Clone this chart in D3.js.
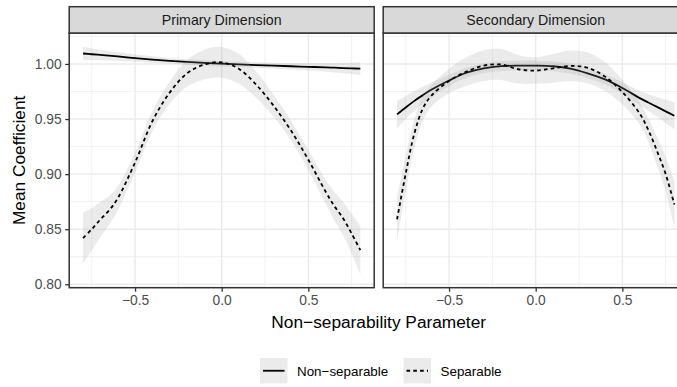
<!DOCTYPE html>
<html>
<head>
<meta charset="utf-8">
<script src="https://cdn.jsdelivr.net/npm/d3@7/dist/d3.min.js"></script>
<style>
  html, body { margin: 0; padding: 0; background: #fff; }
  svg { display: block; font-family: "Liberation Sans", Arial, Helvetica, sans-serif; }
</style>
</head>
<body>
<svg id="chart" width="677" height="387"></svg>
<script>
// Smoothed mean coefficient vs. non-separability parameter, with ±SE bands
const panels = ["Primary Dimension", "Secondary Dimension"];
const seriesNames = ["Non−separable", "Separable"];

const xs = [-0.8, -0.75, -0.7, -0.65, -0.6, -0.5, -0.4, -0.3, -0.2, -0.1, 0.0,
            0.1, 0.2, 0.3, 0.4, 0.5, 0.6, 0.65, 0.7, 0.75, 0.8];

// Primary Dimension
const primaryNonSep   = [1.0095, 1.0088, 1.0082, 1.0075, 1.0068, 1.0053, 1.0040, 1.0028, 1.0018, 1.0010, 1.0003,
                         0.9996, 0.9990, 0.9984, 0.9979, 0.9974, 0.9969, 0.9966, 0.9963, 0.9960, 0.9957];
const primaryNonSepSE = [0.0058, 0.0052, 0.0047, 0.0043, 0.0040, 0.0034, 0.0030, 0.0027, 0.0025, 0.0024, 0.0024,
                         0.0024, 0.0025, 0.0027, 0.0030, 0.0034, 0.0040, 0.0043, 0.0047, 0.0052, 0.0058];
const primarySep      = [0.842, 0.850, 0.8588, 0.867, 0.878, 0.9105, 0.948, 0.974, 0.9915, 0.9995, 1.0015,
                         0.9955, 0.981, 0.962, 0.9395, 0.913, 0.884, 0.871, 0.860, 0.846, 0.831];
const primarySepSE    = [0.023, 0.019, 0.016, 0.013, 0.011, 0.009, 0.009, 0.010, 0.012, 0.0135, 0.014,
                         0.0135, 0.012, 0.010, 0.009, 0.009, 0.011, 0.013, 0.015, 0.018, 0.022];

// Secondary Dimension
const secondaryNonSep   = [0.9542, 0.9605, 0.9665, 0.9718, 0.9768, 0.9850, 0.9920, 0.9960, 0.9980, 0.9985, 0.9985,
                           0.9979, 0.9958, 0.9915, 0.9860, 0.9782, 0.9690, 0.9650, 0.9610, 0.9570, 0.9530];
const secondaryNonSepSE = [0.0125, 0.0105, 0.0090, 0.0075, 0.0065, 0.0052, 0.0046, 0.0045, 0.0045, 0.0045, 0.0045,
                           0.0045, 0.0045, 0.0045, 0.0046, 0.0052, 0.0065, 0.0075, 0.0090, 0.0105, 0.0125];
const secondarySep      = [0.859, 0.9006, 0.937, 0.960, 0.9715, 0.9845, 0.9930, 0.9985, 0.9995, 0.9952, 0.9940,
                           0.9960, 0.9982, 0.9965, 0.9885, 0.9745, 0.955, 0.940, 0.921, 0.900, 0.8725];
const secondarySepSE    = [0.020, 0.016, 0.013, 0.011, 0.010, 0.011, 0.013, 0.014, 0.014, 0.013, 0.012,
                           0.013, 0.014, 0.014, 0.013, 0.011, 0.010, 0.011, 0.013, 0.016, 0.021];

const xTicks = [-0.5, 0.0, 0.5];
const xMinor = [-0.75, -0.25, 0.25, 0.75];
const yTicks = [0.80, 0.85, 0.90, 0.95, 1.00];
const yMinor = [0.825, 0.875, 0.925, 0.975, 1.025];

const panelData = [
  { title: panels[0], series: [
      { name: seriesNames[0], y: primaryNonSep, se: primaryNonSepSE, dash: null },
      { name: seriesNames[1], y: primarySep, se: primarySepSE, dash: "3.6,3.2" } ] },
  { title: panels[1], series: [
      { name: seriesNames[0], y: secondaryNonSep, se: secondaryNonSepSE, dash: null },
      { name: seriesNames[1], y: secondarySep, se: secondarySepSE, dash: "3.6,3.2" } ] }
];

const svg = d3.select("#chart");

const panelW = 305, panelH = 254.7;
const panelLefts = [69.2, 383.2];
const panelTop = 33, stripTop = 6.7;

const x = d3.scaleLinear().domain([-0.88, 0.88]).range([0, panelW]);
const y = d3.scaleLinear().domain([0.7969, 1.0281]).range([panelH, 0]);

const fmtX = v => d3.format(".1f")(v).replace("-", "\u2212");
const fmtY = d3.format(".2f");

const curve = d3.curveCatmullRom.alpha(0.5);
const line = d3.line().x(d => x(d.x)).y(d => y(d.y)).curve(curve);
const area = d3.area().x(d => x(d.x)).y0(d => y(d.y - d.se)).y1(d => y(d.y + d.se)).curve(curve);

const border = "#333333";
const tickFont = 13.8;

panelData.forEach((p, i) => {
  const g = svg.append("g").attr("transform", `translate(${panelLefts[i]},${panelTop})`);

  g.append("rect").attr("width", panelW).attr("height", panelH).attr("fill", "#fff");

  // minor grid
  g.selectAll(".vminor").data(xMinor).join("line")
    .attr("x1", d => x(d)).attr("x2", d => x(d)).attr("y1", 0).attr("y2", panelH)
    .attr("stroke", "#EBEBEB").attr("stroke-width", 0.7);
  g.selectAll(".hminor").data(yMinor).join("line")
    .attr("y1", d => y(d)).attr("y2", d => y(d)).attr("x1", 0).attr("x2", panelW)
    .attr("stroke", "#EBEBEB").attr("stroke-width", 0.7);
  // major grid
  g.selectAll(".vmajor").data(xTicks).join("line")
    .attr("x1", d => x(d)).attr("x2", d => x(d)).attr("y1", 0).attr("y2", panelH)
    .attr("stroke", "#EBEBEB").attr("stroke-width", 1.4);
  g.selectAll(".hmajor").data(yTicks).join("line")
    .attr("y1", d => y(d)).attr("y2", d => y(d)).attr("x1", 0).attr("x2", panelW)
    .attr("stroke", "#EBEBEB").attr("stroke-width", 1.4);

  // smooth bands and lines
  p.series.forEach(s => {
    const pts = xs.map((xv, k) => ({ x: xv, y: s.y[k], se: s.se[k] }));
    g.append("path").datum(pts).attr("d", area)
      .attr("fill", "#999999").attr("fill-opacity", 0.2);
    g.append("path").datum(pts).attr("d", line)
      .attr("fill", "none").attr("stroke", "#000").attr("stroke-width", 1.8)
      .attr("stroke-dasharray", s.dash);
  });

  // panel border
  g.append("rect").attr("width", panelW).attr("height", panelH)
    .attr("fill", "none").attr("stroke", border).attr("stroke-width", 1.5);

  // strip
  const sg = svg.append("g").attr("transform", `translate(${panelLefts[i]},${stripTop})`);
  sg.append("rect").attr("width", panelW).attr("height", panelTop - stripTop)
    .attr("fill", "#D9D9D9").attr("stroke", border).attr("stroke-width", 1.5);
  sg.append("text").attr("x", panelW / 2).attr("y", (panelTop - stripTop) / 2 + 5.1)
    .attr("text-anchor", "middle").attr("font-size", 14.2).attr("fill", "#1A1A1A")
    .text(p.title);

  // x axis
  const xa = svg.append("g").attr("transform", `translate(${panelLefts[i]},${panelTop + panelH})`)
    .call(d3.axisBottom(x).tickValues(xTicks).tickFormat(fmtX).tickSize(4).tickPadding(4));
  xa.select(".domain").remove();
  xa.selectAll(".tick line").attr("stroke", border).attr("stroke-width", 1.3);
  xa.selectAll(".tick text").attr("fill", "#4D4D4D").attr("font-size", tickFont)
    .attr("font-family", "Liberation Sans, Arial, sans-serif");

  // y axis (first panel only)
  if (i === 0) {
    const ya = svg.append("g").attr("transform", `translate(${panelLefts[i]},${panelTop})`)
      .call(d3.axisLeft(y).tickValues(yTicks).tickFormat(fmtY).tickSize(4).tickPadding(3.5));
    ya.select(".domain").remove();
    ya.selectAll(".tick line").attr("stroke", border).attr("stroke-width", 1.3);
    ya.selectAll(".tick text").attr("fill", "#4D4D4D").attr("font-size", tickFont)
      .attr("font-family", "Liberation Sans, Arial, sans-serif");
  }
});

// axis titles
svg.append("text").attr("x", 378.7).attr("y", 327.5).attr("text-anchor", "middle")
  .attr("font-size", 17.3).attr("fill", "#000").text("Non−separability Parameter");
svg.append("text").attr("transform", `translate(25,${panelTop + panelH / 2}) rotate(-90)`)
  .attr("text-anchor", "middle").attr("font-size", 17.3).attr("fill", "#000")
  .text("Mean Coefficient");

// legend
const legendItems = [
  { name: seriesNames[0], dash: null, kx: 260, tx: 297 },
  { name: seriesNames[1], dash: "3.6,3.2", kx: 403.5, tx: 440.5 }
];
const keyTop = 358, keyW = 27.5, keyH = 25.5;
legendItems.forEach(it => {
  svg.append("rect").attr("x", it.kx).attr("y", keyTop).attr("width", keyW).attr("height", keyH)
    .attr("fill", "#999999").attr("fill-opacity", 0.2);
  svg.append("line").attr("x1", it.kx + 3).attr("x2", it.kx + keyW - 3)
    .attr("y1", keyTop + keyH / 2).attr("y2", keyTop + keyH / 2)
    .attr("stroke", "#000").attr("stroke-width", 1.8).attr("stroke-dasharray", it.dash);
  svg.append("text").attr("x", it.tx).attr("y", keyTop + keyH / 2 + 4.8)
    .attr("font-size", 13.4).attr("fill", "#000").text(it.name);
});
</script>
</body>
</html>
